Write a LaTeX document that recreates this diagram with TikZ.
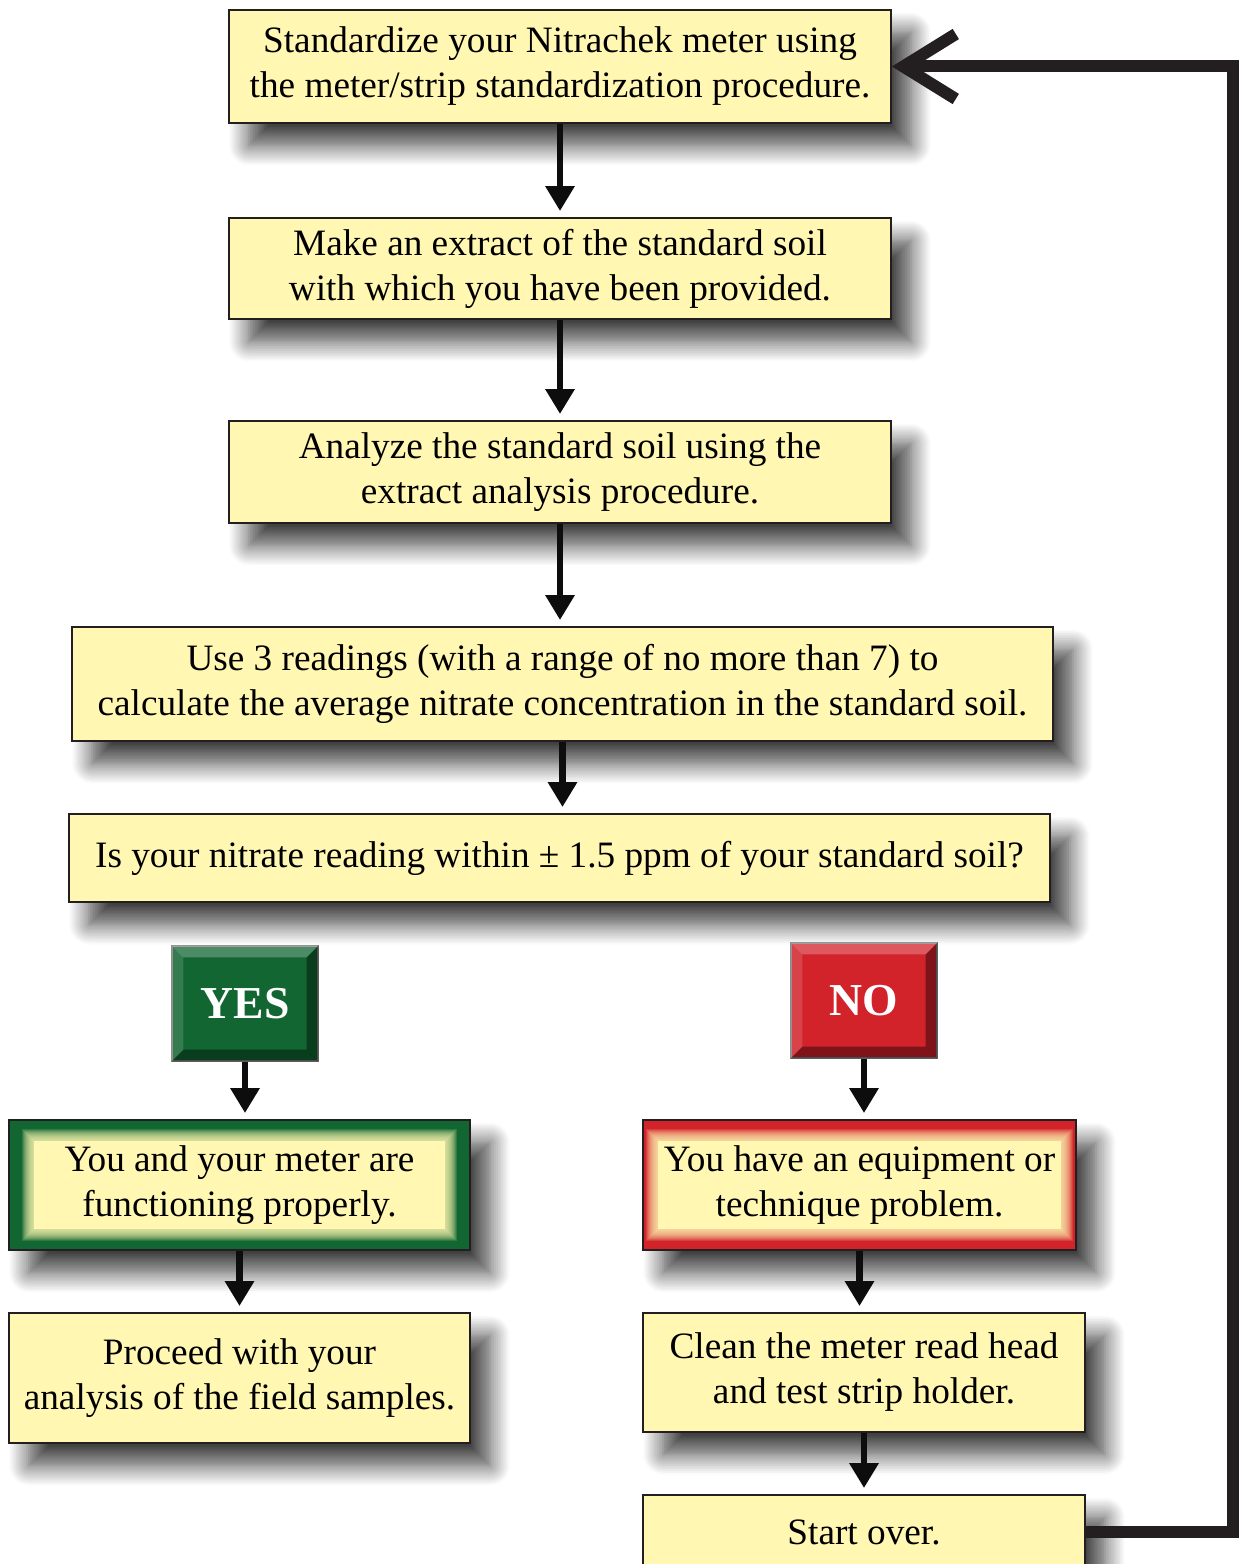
\documentclass[tikz,border=0pt]{standalone}
\usepackage{fontspec}
\setmainfont{Liberation Serif}
\usetikzlibrary{arrows.meta}
\usetikzlibrary{calc}
\usetikzlibrary{shadows.blur}

\definecolor{boxyellow}{RGB}{255,247,178}
\definecolor{okgreen}{RGB}{17,102,49}
\definecolor{badred}{RGB}{210,34,42}
\definecolor{inkgray}{RGB}{35,31,32}

\tikzset{
  stepbox/.style={draw=inkgray, line width=1.1pt, fill=boxyellow, align=center, inner sep=0pt,
    font=\fontsize{21.2}{25.6}\selectfont,
    blur shadow={shadow xshift=0.4cm, shadow yshift=-0.45cm, shadow blur radius=0.4cm, shadow blur steps=12, shadow opacity=75}},
  answer/.style={draw=gray, line width=0.8pt, text=white, inner sep=0pt,
    minimum width=2.92cm, minimum height=2.3cm, font=\fontsize{26}{30}\selectfont\bfseries},
  flow/.style={line width=0.13cm, color=black!95, shorten >=0.12cm,
    -{Triangle[length=0.5cm, width=0.56cm]}},
  loopline/.style={line width=0.24cm, color=inkgray,
    -{Straight Barb[length=1.05cm, width=1.3cm, sharp]}}
}

\begin{document}
\begin{tikzpicture}[x=0.02cm, y=-0.02cm]
                \clip (0,0) rectangle (1244,1564);
                % main column
                \node[stepbox, minimum width=13.24cm, minimum height=2.26cm] (std) at (560,66.5)
                    {Standardize your Nitrachek meter using\\the meter/strip standardization procedure.};
                \node[stepbox, minimum width=13.24cm, minimum height=2.02cm] (extract) at (560,268.5)
                    {Make an extract of the standard soil\\with which you have been provided.};
                \node[stepbox, minimum width=13.24cm, minimum height=2.04cm] (analyze) at (560,472)
                    {Analyze the standard soil using the\\extract analysis procedure.};
                \node[stepbox, minimum width=19.62cm, minimum height=2.28cm] (avg) at (562.5,684)
                    {Use 3 readings (with a range of no more than 7) to\\calculate the average nitrate concentration in the standard soil.};
                \node[stepbox, minimum width=19.62cm, minimum height=1.76cm] (check) at (559.5,858)
                    {Is your nitrate reading within ± 1.5 ppm of your standard soil?};
                % answers
                \node[answer, fill=okgreen] (yes) at (245,1003.5) {YES};
                \node[answer, fill=badred] (no) at (864,1000.5) {NO};
                \foreach \n in {yes,no} {
                    \fill[white, opacity=0.25] (\n.north west) -- (\n.north east) -- ($(\n.north east)+(-12,12)$) -- ($(\n.north west)+(12,12)$) -- cycle;
                    \fill[white, opacity=0.15] (\n.north west) -- ($(\n.north west)+(12,12)$) -- ($(\n.south west)+(12,-12)$) -- (\n.south west) -- cycle;
                    \fill[black, opacity=0.4] (\n.south west) -- (\n.south east) -- ($(\n.south east)+(-12,-12)$) -- ($(\n.south west)+(12,-12)$) -- cycle;
                    \fill[black, opacity=0.4] (\n.north east) -- (\n.south east) -- ($(\n.south east)+(-12,-12)$) -- ($(\n.north east)+(-12,12)$) -- cycle;
                }
                % result boxes with a yellow glow inside
                \node[stepbox, fill=okgreen, minimum width=9.22cm, minimum height=2.6cm] (ok) at (239.5,1185) {};
                \node[stepbox, fill=badred, minimum width=8.66cm, minimum height=2.6cm] (bad) at (859.5,1185) {};
                \foreach \n/\ix in {ok/26,bad/16} {
                    \foreach \g in {12,11,...,1}
                        \fill[boxyellow, opacity=0.14] ($(\n.north west)+(\ix-\g,22-\g)$) rectangle ($(\n.south east)+(-\ix+\g,-22+\g)$);
                    \fill[boxyellow] ($(\n.north west)+(\ix,22)$) rectangle ($(\n.south east)+(-\ix,-22)$);
                }
                \node[align=center, font=\fontsize{21.2}{25.6}\selectfont] (oktext) at (ok)
                    {You and your meter are\\functioning properly.};
                \node[align=center, font=\fontsize{21.2}{25.6}\selectfont] (badtext) at (bad)
                    {You have an equipment or\\technique problem.};
                \node[stepbox, minimum width=9.22cm, minimum height=2.6cm] (proceed) at (239.5,1378)
                    {Proceed with your\\analysis of the field samples.};
                \node[stepbox, minimum width=8.84cm, minimum height=2.38cm] (clean) at (864,1372.5)
                    {Clean the meter read head\\and test strip holder.};
                \node[stepbox, minimum width=8.84cm, minimum height=1.48cm] (start) at (864,1532)
                    {Start over.};
                % arrows
                \foreach \a/\b in {std/extract,extract/analyze,analyze/avg,avg/check,yes/ok,no/bad,ok/proceed,bad/clean,clean/start}
                    \draw[flow] (\a.south) -- (\a.south |- \b.north);
                \coordinate (rim) at (1233,1532);
                \draw[loopline] (start.east) -- (rim) |- (std.east);
            \end{tikzpicture}
\end{document}
